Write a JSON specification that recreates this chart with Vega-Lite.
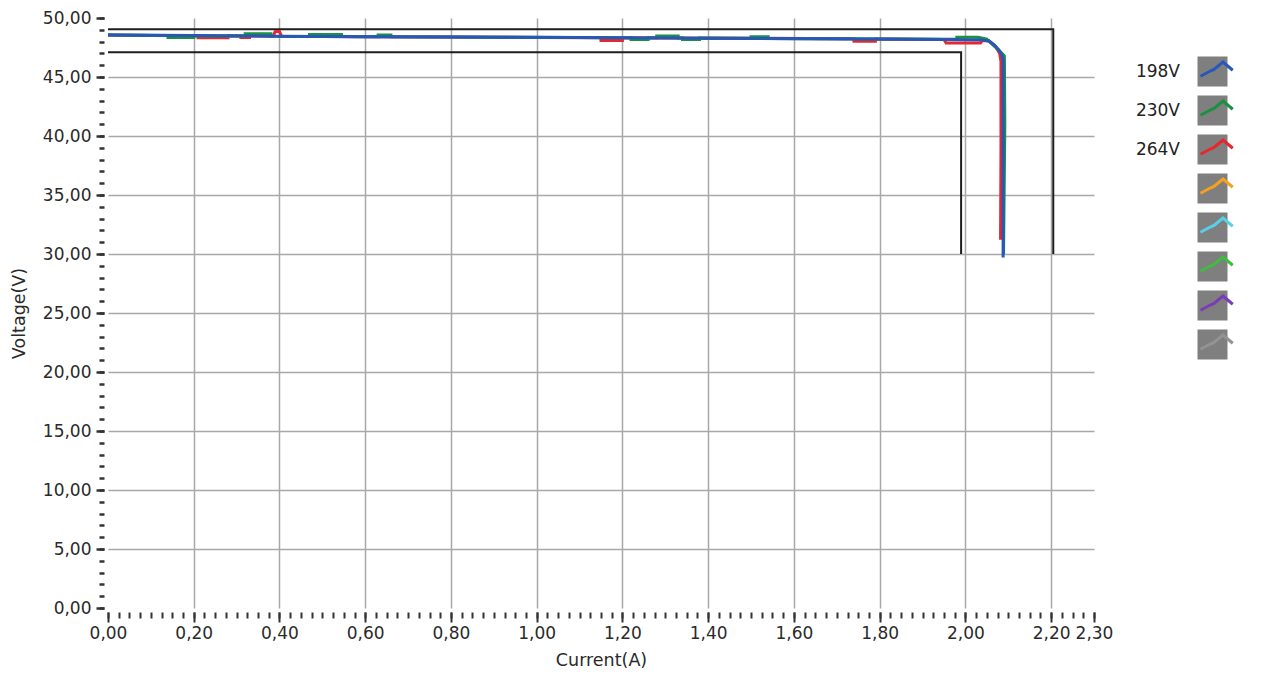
{
  "$schema": "https://vega.github.io/schema/vega-lite/v6.json",
  "width": 986,
  "height": 590,
  "autosize": "none",
  "padding": {"left": 108, "top": 18, "right": 180, "bottom": 67},
  "background": "white",
  "config": {"view": {"stroke": null}, "font": "DejaVu Sans"},
  "datasets": {
    "series": [
      {"s": "264V", "i": 0, "x": 0.0, "y": 48.55},
      {"s": "264V", "i": 1, "x": 0.1, "y": 48.52},
      {"s": "264V", "i": 2, "x": 0.21, "y": 48.5},
      {"s": "264V", "i": 3, "x": 0.21, "y": 48.32},
      {"s": "264V", "i": 4, "x": 0.28, "y": 48.32},
      {"s": "264V", "i": 5, "x": 0.28, "y": 48.49},
      {"s": "264V", "i": 6, "x": 0.31, "y": 48.48},
      {"s": "264V", "i": 7, "x": 0.31, "y": 48.34},
      {"s": "264V", "i": 8, "x": 0.33, "y": 48.34},
      {"s": "264V", "i": 9, "x": 0.33, "y": 48.47},
      {"s": "264V", "i": 10, "x": 0.385, "y": 48.46},
      {"s": "264V", "i": 11, "x": 0.39, "y": 48.85},
      {"s": "264V", "i": 12, "x": 0.4, "y": 48.85},
      {"s": "264V", "i": 13, "x": 0.405, "y": 48.45},
      {"s": "264V", "i": 14, "x": 0.6, "y": 48.42},
      {"s": "264V", "i": 15, "x": 0.8, "y": 48.38},
      {"s": "264V", "i": 16, "x": 1.0, "y": 48.35},
      {"s": "264V", "i": 17, "x": 1.15, "y": 48.33},
      {"s": "264V", "i": 18, "x": 1.15, "y": 48.1},
      {"s": "264V", "i": 19, "x": 1.2, "y": 48.1},
      {"s": "264V", "i": 20, "x": 1.2, "y": 48.32},
      {"s": "264V", "i": 21, "x": 1.45, "y": 48.29},
      {"s": "264V", "i": 22, "x": 1.74, "y": 48.24},
      {"s": "264V", "i": 23, "x": 1.74, "y": 48.02},
      {"s": "264V", "i": 24, "x": 1.79, "y": 48.02},
      {"s": "264V", "i": 25, "x": 1.79, "y": 48.22},
      {"s": "264V", "i": 26, "x": 1.95, "y": 48.18},
      {"s": "264V", "i": 27, "x": 1.955, "y": 47.88},
      {"s": "264V", "i": 28, "x": 2.035, "y": 47.88},
      {"s": "264V", "i": 29, "x": 2.04, "y": 48.1},
      {"s": "264V", "i": 30, "x": 2.055, "y": 48.05},
      {"s": "264V", "i": 31, "x": 2.07, "y": 47.6},
      {"s": "264V", "i": 32, "x": 2.08, "y": 47.0},
      {"s": "264V", "i": 33, "x": 2.083, "y": 46.3},
      {"s": "264V", "i": 34, "x": 2.083, "y": 39.0},
      {"s": "264V", "i": 35, "x": 2.082, "y": 31.2},
      {"s": "230V", "i": 0, "x": 0.0, "y": 48.55},
      {"s": "230V", "i": 1, "x": 0.14, "y": 48.52},
      {"s": "230V", "i": 2, "x": 0.14, "y": 48.35},
      {"s": "230V", "i": 3, "x": 0.2, "y": 48.35},
      {"s": "230V", "i": 4, "x": 0.2, "y": 48.5},
      {"s": "230V", "i": 5, "x": 0.32, "y": 48.47},
      {"s": "230V", "i": 6, "x": 0.32, "y": 48.66},
      {"s": "230V", "i": 7, "x": 0.38, "y": 48.66},
      {"s": "230V", "i": 8, "x": 0.38, "y": 48.46},
      {"s": "230V", "i": 9, "x": 0.47, "y": 48.44},
      {"s": "230V", "i": 10, "x": 0.47, "y": 48.6},
      {"s": "230V", "i": 11, "x": 0.545, "y": 48.6},
      {"s": "230V", "i": 12, "x": 0.545, "y": 48.43},
      {"s": "230V", "i": 13, "x": 0.63, "y": 48.42},
      {"s": "230V", "i": 14, "x": 0.63, "y": 48.55},
      {"s": "230V", "i": 15, "x": 0.66, "y": 48.55},
      {"s": "230V", "i": 16, "x": 0.66, "y": 48.41},
      {"s": "230V", "i": 17, "x": 0.9, "y": 48.37},
      {"s": "230V", "i": 18, "x": 1.22, "y": 48.33},
      {"s": "230V", "i": 19, "x": 1.22, "y": 48.18},
      {"s": "230V", "i": 20, "x": 1.26, "y": 48.18},
      {"s": "230V", "i": 21, "x": 1.26, "y": 48.32},
      {"s": "230V", "i": 22, "x": 1.28, "y": 48.32},
      {"s": "230V", "i": 23, "x": 1.28, "y": 48.48},
      {"s": "230V", "i": 24, "x": 1.33, "y": 48.48},
      {"s": "230V", "i": 25, "x": 1.33, "y": 48.3},
      {"s": "230V", "i": 26, "x": 1.34, "y": 48.3},
      {"s": "230V", "i": 27, "x": 1.34, "y": 48.18},
      {"s": "230V", "i": 28, "x": 1.38, "y": 48.18},
      {"s": "230V", "i": 29, "x": 1.38, "y": 48.3},
      {"s": "230V", "i": 30, "x": 1.5, "y": 48.28},
      {"s": "230V", "i": 31, "x": 1.5, "y": 48.42},
      {"s": "230V", "i": 32, "x": 1.54, "y": 48.42},
      {"s": "230V", "i": 33, "x": 1.54, "y": 48.27},
      {"s": "230V", "i": 34, "x": 1.8, "y": 48.22},
      {"s": "230V", "i": 35, "x": 1.98, "y": 48.2},
      {"s": "230V", "i": 36, "x": 1.98, "y": 48.36},
      {"s": "230V", "i": 37, "x": 2.03, "y": 48.36},
      {"s": "230V", "i": 38, "x": 2.05, "y": 48.2},
      {"s": "230V", "i": 39, "x": 2.065, "y": 47.7},
      {"s": "230V", "i": 40, "x": 2.08, "y": 47.2},
      {"s": "230V", "i": 41, "x": 2.091, "y": 46.8},
      {"s": "230V", "i": 42, "x": 2.092, "y": 41.0},
      {"s": "230V", "i": 43, "x": 2.089, "y": 30.0},
      {"s": "198V", "i": 0, "x": 0.0, "y": 48.56},
      {"s": "198V", "i": 1, "x": 0.2, "y": 48.52},
      {"s": "198V", "i": 2, "x": 0.4, "y": 48.46},
      {"s": "198V", "i": 3, "x": 0.6, "y": 48.42},
      {"s": "198V", "i": 4, "x": 0.8, "y": 48.39},
      {"s": "198V", "i": 5, "x": 1.0, "y": 48.36},
      {"s": "198V", "i": 6, "x": 1.2, "y": 48.33},
      {"s": "198V", "i": 7, "x": 1.4, "y": 48.29},
      {"s": "198V", "i": 8, "x": 1.6, "y": 48.25},
      {"s": "198V", "i": 9, "x": 1.8, "y": 48.21},
      {"s": "198V", "i": 10, "x": 1.95, "y": 48.17},
      {"s": "198V", "i": 11, "x": 2.04, "y": 48.14},
      {"s": "198V", "i": 12, "x": 2.055, "y": 48.05},
      {"s": "198V", "i": 13, "x": 2.068, "y": 47.7},
      {"s": "198V", "i": 14, "x": 2.078, "y": 47.3},
      {"s": "198V", "i": 15, "x": 2.085, "y": 46.9},
      {"s": "198V", "i": 16, "x": 2.088, "y": 46.4},
      {"s": "198V", "i": 17, "x": 2.088, "y": 40.0},
      {"s": "198V", "i": 18, "x": 2.088, "y": 29.7}
    ],
    "limits": [
      {"g": "outer", "i": 0, "x": 0.0, "y": 49.05},
      {"g": "outer", "i": 1, "x": 2.205, "y": 49.05},
      {"g": "outer", "i": 2, "x": 2.205, "y": 30.0},
      {"g": "inner", "i": 0, "x": 0.0, "y": 47.1},
      {"g": "inner", "i": 1, "x": 1.99, "y": 47.1},
      {"g": "inner", "i": 2, "x": 1.99, "y": 30.0}
    ]
  },
  "resolve": {"axis": {"x": "independent", "y": "independent"}},
  "layer": [
    {
      "data": {"name": "limits"},
      "mark": {"type": "line", "color": "#1e1e1e", "strokeWidth": 2},
      "encoding": {
        "x": {"field": "x", "type": "quantitative", "scale": {"domain": [0, 2.3], "nice": false, "zero": false},
          "axis": {"orient": "bottom", "values": [0,0.025,0.05,0.075,0.1,0.125,0.15,0.175,0.2,0.225,0.25,0.275,0.3,0.325,0.35,0.375,0.4,0.425,0.45,0.475,0.5,0.525,0.55,0.575,0.6,0.625,0.65,0.675,0.7,0.725,0.75,0.775,0.8,0.825,0.85,0.875,0.9,0.925,0.95,0.975,1,1.025,1.05,1.075,1.1,1.125,1.15,1.175,1.2,1.225,1.25,1.275,1.3,1.325,1.35,1.375,1.4,1.425,1.45,1.475,1.5,1.525,1.55,1.575,1.6,1.625,1.65,1.675,1.7,1.725,1.75,1.775,1.8,1.825,1.85,1.875,1.9,1.925,1.95,1.975,2,2.025,2.05,2.075,2.1,2.125,2.15,2.175,2.2,2.225,2.25,2.275,2.3],
            "labels": false, "grid": false, "domain": false, "title": null, "offset": 4, "tickSize": 6, "tickWidth": 2, "tickColor": "#333333"}},
        "y": {"field": "y", "type": "quantitative", "scale": {"domain": [0, 50], "nice": false},
          "axis": {"orient": "left", "values": [0,1,2,3,4,5,6,7,8,9,10,11,12,13,14,15,16,17,18,19,20,21,22,23,24,25,26,27,28,29,30,31,32,33,34,35,36,37,38,39,40,41,42,43,44,45,46,47,48,49,50],
            "labels": false, "grid": false, "domain": false, "title": null, "offset": 4, "tickSize": 5, "tickWidth": 2.5, "tickColor": "#333333"}},
        "detail": {"field": "g"},
        "order": {"field": "i"}
      }
    },
    {
      "data": {"name": "series"},
      "mark": {"type": "line", "strokeWidth": 3},
      "encoding": {
        "x": {"field": "x", "type": "quantitative",
          "axis": {"orient": "bottom", "values": [0,0.2,0.4,0.6,0.8,1,1.2,1.4,1.6,1.8,2,2.2,2.3],
            "title": "Current(A)", "domain": false, "offset": 4, "tickSize": 10, "tickWidth": 2, "tickColor": "#333333",
            "labelExpr": "replace(format(datum.value, '.2f'), '.', ',')",
            "labelFont": "DejaVu Sans", "labelFontSize": 17, "labelColor": "#2a2a2a", "labelPadding": 3, "labelOverlap": false, "labelFlush": false,
            "grid": true, "gridWidth": 1.5,
            "gridColor": {"condition": {"test": "datum.value < 0.01 || datum.value > 2.25", "value": "transparent"}, "value": "#a8a8a8"},
            "titleFont": "DejaVu Sans", "titleFontSize": 17.5, "titleFontWeight": "normal", "titleColor": "#2a2a2a", "titlePadding": 10}},
        "y": {"field": "y", "type": "quantitative",
          "axis": {"orient": "left", "values": [0,5,10,15,20,25,30,35,40,45,50],
            "title": "Voltage(V)", "domain": false, "offset": 4, "tickSize": 8, "tickWidth": 2.5, "tickColor": "#333333",
            "labelExpr": "replace(format(datum.value, '.2f'), '.', ',')",
            "labelFont": "DejaVu Sans", "labelFontSize": 17, "labelColor": "#2a2a2a", "labelPadding": 5, "labelOverlap": false,
            "grid": true, "gridWidth": 1.5,
            "gridColor": {"condition": {"test": "datum.value < 0.5 || datum.value > 49.5", "value": "transparent"}, "value": "#a8a8a8"},
            "titleFont": "DejaVu Sans", "titleFontSize": 17.5, "titleFontWeight": "normal", "titleColor": "#2a2a2a", "titlePadding": 14}},
        "color": {"field": "s", "type": "nominal",
          "scale": {"domain": ["198V", "230V", "264V", "c4", "c5", "c6", "c7", "c8"],
            "range": ["#2757b8", "#1b9040", "#e5282f", "#f5a11e", "#58d0e8", "#3fbd3f", "#7b3cb8", "#939393"]},
          "legend": {"orient": "none", "legendX": 1088, "legendY": 38, "title": null, "zindex": 3,
            "symbolType": "M-1,-1M1,1M-0.8,0.25L-0.15,-0.1L0.1,-0.2L0.7,-0.7L1.35,-0.15",
            "symbolSize": 900, "symbolStrokeWidth": 3, "symbolFillColor": "transparent", "symbolOpacity": 1,
            "labelExpr": "' '",
            "labelAlign": "right", "labelOffset": -49.5, "labelFont": "DejaVu Sans", "labelFontSize": 17, "labelColor": "#222222",
            "rowPadding": -4, "padding": 0}},
        "order": {"field": "i"}
      }
    },
    {
      "data": {"name": "series"},
      "transform": [{"filter": "false"}],
      "mark": {"type": "point", "filled": true, "fill": "#7f7f7f", "stroke": "#4d4d4d", "strokeWidth": 1.5},
      "encoding": {
        "x": {"field": "x", "type": "quantitative", "axis": null},
        "y": {"field": "y", "type": "quantitative", "axis": null},
        "shape": {"field": "s", "type": "nominal",
          "scale": {"domain": ["198V", "230V", "264V", "d4", "d5", "d6", "d7", "d8"],
            "range": ["M-1,-1H1V1H-1ZM0,-1V1", "M-1,-1H1V1H-1ZM0,-1V1", "M-1,-1H1V1H-1ZM0,-1V1", "M-1,-1H1V1H-1ZM0,-1V1", "M-1,-1H1V1H-1ZM0,-1V1", "M-1,-1H1V1H-1ZM0,-1V1", "M-1,-1H1V1H-1ZM0,-1V1", "M-1,-1H1V1H-1ZM0,-1V1"]},
          "legend": {"orient": "none", "legendX": 1088.5, "legendY": 37.5, "title": null, "zindex": 1,
            "symbolSize": 900, "symbolStrokeWidth": 1.5, "symbolFillColor": "#7f7f7f", "symbolStrokeColor": "#4d4d4d", "symbolOpacity": 1,
            "labelExpr": "indexof(['198V', '230V', '264V'], datum.label) >= 0 ? datum.label : ''",
            "labelAlign": "right", "labelOffset": -48.5, "labelFont": "DejaVu Sans", "labelFontSize": 17, "labelColor": "#222222",
            "rowPadding": 3, "padding": 0}}
      }
    }
  ]
}
